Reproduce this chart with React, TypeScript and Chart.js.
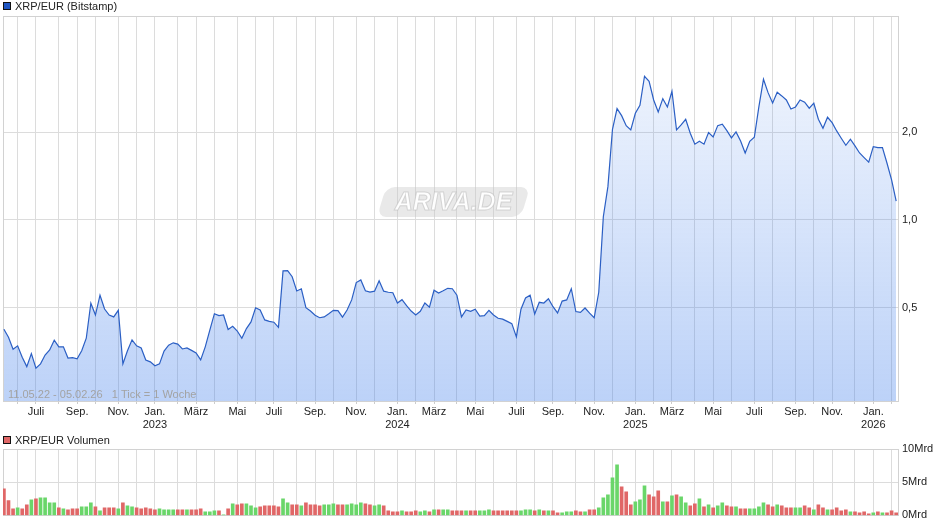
import React, { useEffect, useRef } from 'react';
import { Chart, registerables } from 'chart.js';

Chart.register(...registerables);

const START_DATE = Date.UTC(2022, 4, 11);
const END_MONTH = { y: 2026, m: 1 };
const FIRST_MONTH = { y: 2022, m: 5 };
const PRICE_TITLE = 'XRP/EUR (Bitstamp)';
const VOLUME_TITLE = 'XRP/EUR Volumen';
const RANGE_TEXT = '11.05.22 - 05.02.26   1 Tick = 1 Woche';
const WATERMARK = 'ARIVA.DE';
const MONTH_NAMES = ['Jan.', 'Feb.', 'März', 'Apr.', 'Mai', 'Juni', 'Juli', 'Aug.', 'Sep.', 'Okt.', 'Nov.', 'Dez.'];
const PRICE_TICKS = [0.5, 1, 2];
const PRICE_TICK_LABELS = ['0,5', '1,0', '2,0'];
const VOLUME_TICKS = [0, 5, 10];
const VOLUME_TICK_LABELS = ['0Mrd', '5Mrd', '10Mrd'];

// weekly closing price, EUR
const PRICE = [
  0.421, 0.395, 0.359, 0.369, 0.337, 0.313, 0.347, 0.309, 0.320, 0.343,
  0.357, 0.386, 0.366, 0.366, 0.335, 0.336, 0.333, 0.355, 0.392, 0.517,
  0.471, 0.551, 0.494, 0.471, 0.464, 0.489, 0.320, 0.355, 0.387, 0.369,
  0.363, 0.330, 0.325, 0.315, 0.320, 0.354, 0.371, 0.378, 0.374, 0.360,
  0.363, 0.356, 0.349, 0.330, 0.366, 0.418, 0.476, 0.469, 0.471, 0.420,
  0.431, 0.415, 0.392, 0.423, 0.446, 0.499, 0.490, 0.453, 0.448, 0.445,
  0.427, 0.668, 0.669, 0.638, 0.570, 0.580, 0.499, 0.486, 0.470, 0.461,
  0.464, 0.476, 0.489, 0.488, 0.463, 0.490, 0.531, 0.609, 0.622, 0.571,
  0.565, 0.569, 0.618, 0.569, 0.564, 0.562, 0.518, 0.532, 0.507, 0.486,
  0.471, 0.485, 0.518, 0.501, 0.573, 0.561, 0.571, 0.582, 0.580, 0.551,
  0.464, 0.490, 0.485, 0.493, 0.467, 0.469, 0.489, 0.471, 0.459, 0.456,
  0.448, 0.440, 0.396, 0.493, 0.539, 0.551, 0.475, 0.521, 0.518, 0.536,
  0.503, 0.479, 0.526, 0.531, 0.580, 0.484, 0.481, 0.498, 0.478, 0.461,
  0.564, 1.026, 1.302, 2.051, 2.415, 2.285, 2.111, 2.040, 2.329, 2.481,
  3.121, 3.000, 2.587, 2.352, 2.614, 2.448, 2.772, 2.040, 2.122, 2.220,
  1.987, 1.822, 1.865, 1.822, 1.997, 1.930, 2.111, 2.134, 2.029, 1.915,
  2.008, 1.870, 1.700, 1.865, 1.925, 2.453, 3.048, 2.741, 2.526, 2.750,
  2.671, 2.587, 2.409, 2.448, 2.587, 2.541, 2.423, 2.521, 2.220, 2.068,
  2.256, 2.161, 2.024, 1.910, 1.807, 1.895, 1.797, 1.700, 1.638, 1.580,
  1.787, 1.773, 1.773, 1.567, 1.373, 1.160,
];

// weekly volume, Mrd
const VOLUME = [
  4.0, 2.25, 1.0, 1.15, 1.0, 1.6, 2.35, 2.5, 2.65, 2.65,
  1.9, 1.9, 1.15, 1.0, 0.85, 1.0, 1.0, 1.3, 1.3, 1.9,
  1.3, 0.7, 1.15, 1.15, 1.15, 1.0, 1.9, 1.45, 1.3, 1.15,
  1.0, 1.15, 1.0, 0.85, 1.0, 0.85, 0.85, 0.85, 0.85, 0.85,
  0.85, 0.85, 0.85, 1.0, 0.55, 0.55, 0.7, 0.7, 0.1, 1.0,
  1.75, 1.6, 1.75, 1.75, 1.45, 1.15, 1.3, 1.45, 1.45, 1.45,
  1.3, 2.5, 1.9, 1.6, 1.6, 1.45, 1.9, 1.6, 1.6, 1.45,
  1.6, 1.6, 1.75, 1.6, 1.6, 1.6, 1.75, 1.6, 1.9, 1.75,
  1.6, 1.45, 1.6, 1.45, 0.7, 0.55, 0.55, 0.7, 0.55, 0.55,
  0.7, 0.55, 0.7, 0.55, 0.85, 0.85, 0.85, 0.85, 0.7, 0.7,
  0.7, 0.7, 0.7, 0.7, 0.7, 0.7, 0.85, 0.7, 0.7, 0.7,
  0.7, 0.7, 0.7, 0.7, 0.85, 0.85, 0.7, 0.85, 0.7, 0.7,
  0.7, 0.4, 0.4, 0.55, 0.55, 0.7, 0.55, 0.55, 0.85, 0.85,
  1.15, 2.65, 3.1, 5.65, 7.6, 4.3, 3.55, 1.6, 2.05, 2.35,
  4.45, 3.1, 2.8, 3.7, 2.05, 2.05, 2.95, 3.1, 2.8, 1.9,
  1.45, 1.75, 2.5, 1.3, 1.6, 1.15, 1.45, 1.9, 1.45, 1.3,
  1.3, 1.0, 1.0, 1.0, 1.0, 1.3, 1.9, 1.6, 1.3, 1.6,
  1.45, 1.15, 1.15, 1.15, 1.15, 1.45, 1.15, 0.85, 1.6, 1.15,
  0.85, 0.85, 1.15, 0.7, 0.85, 0.55, 0.55, 0.4, 0.55, 0.25,
  0.4, 0.55, 0.4, 0.4, 0.7, 0.4,
];

// 1 = green (up week), 0 = red (down week)
const VOLUME_UP = [
  0, 0, 0, 1, 0, 0, 1, 0, 1, 1,
  1, 1, 0, 1, 0, 0, 0, 1, 1, 1,
  0, 1, 0, 0, 0, 1, 0, 1, 1, 0,
  0, 0, 0, 0, 1, 1, 1, 1, 0, 0,
  1, 0, 0, 0, 1, 1, 1, 0, 1, 0,
  1, 0, 0, 1, 1, 1, 0, 0, 0, 0,
  0, 1, 1, 0, 0, 1, 0, 0, 0, 0,
  1, 1, 1, 0, 0, 1, 1, 1, 1, 0,
  0, 1, 1, 0, 0, 0, 0, 1, 0, 0,
  0, 1, 1, 0, 1, 0, 1, 1, 0, 0,
  0, 1, 0, 0, 1, 1, 1, 0, 0, 0,
  0, 0, 0, 1, 1, 1, 0, 1, 0, 1,
  0, 0, 1, 1, 1, 0, 0, 1, 0, 0,
  1, 1, 1, 1, 1, 0, 0, 0, 1, 1,
  1, 0, 0, 0, 1, 0, 1, 0, 1, 1,
  0, 0, 1, 0, 1, 0, 1, 1, 0, 0,
  1, 0, 0, 1, 1, 1, 1, 0, 0, 1,
  0, 0, 0, 1, 1, 0, 0, 1, 0, 0,
  1, 0, 0, 0, 0, 1, 0, 0, 0, 0,
  1, 0, 1, 0, 0, 0,
];

const FONT = '"Liberation Sans", Arial, Helvetica, sans-serif';
const GRID = '#dcdcdc';
const FRAME = '#d2d2d2';
const LINE = '#2b5fc4';
const UP = '#6ad66a';
const DOWN = '#e06767';

// month starts -> index of the week that contains them
function buildMonths() {
  const out: { idx: number; label: string | string[] }[] = [];
  let y = FIRST_MONTH.y;
  let m = FIRST_MONTH.m;
  while (y < END_MONTH.y || (y === END_MONTH.y && m <= END_MONTH.m)) {
    const d = (Date.UTC(y, m, 1) - START_DATE) / 86400000;
    const idx = Math.floor((d + 2) / 7);
    let label: string | string[] = '';
    if (m % 2 === 0) label = m === 0 ? [MONTH_NAMES[m], String(y)] : MONTH_NAMES[m];
    out.push({ idx, label });
    m++;
    if (m > 11) {
      m = 0;
      y++;
    }
  }
  return out;
}

const MONTHS = buildMonths();
const X_MIN = -0.2;
const X_MAX = PRICE.length - 0.6;

function xScale(showLabels: boolean, height: number) {
  return {
    type: 'linear',
    min: X_MIN,
    max: X_MAX,
    offset: false,
    afterBuildTicks: (s: any) => {
      s.ticks = MONTHS.map((t) => ({ value: t.idx }));
    },
    afterFit: (s: any) => {
      s.height = height;
    },
    ticks: {
      display: showLabels,
      autoSkip: false,
      maxRotation: 0,
      minRotation: 0,
      padding: 1,
      color: '#222',
      font: { family: FONT, size: 11 },
      callback: (_v: any, i: number) => MONTHS[i] ? MONTHS[i].label : '',
    },
    grid: {
      color: GRID,
      lineWidth: 1,
      offset: false,
      drawTicks: showLabels,
      tickLength: 3,
      tickColor: '#cccccc',
    },
    border: { display: false },
  };
}

function frame(chart: any) {
  const a = chart.chartArea;
  const ctx = chart.ctx;
  ctx.save();
  ctx.strokeStyle = FRAME;
  ctx.lineWidth = 1;
  ctx.strokeRect(Math.round(a.left) + 0.5, Math.round(a.top) + 0.5, Math.round(a.right - a.left), Math.round(a.bottom - a.top));
  ctx.restore();
}

function legend(ctx: CanvasRenderingContext2D, y: number, color: string, text: string) {
  ctx.save();
  ctx.fillStyle = color;
  ctx.fillRect(3.5, y - 3.5, 7, 7);
  ctx.strokeStyle = '#111';
  ctx.lineWidth = 1;
  ctx.strokeRect(3.5, y - 3.5, 7, 7);
  ctx.fillStyle = '#222';
  ctx.font = `11px ${FONT}`;
  ctx.textBaseline = 'middle';
  ctx.textAlign = 'left';
  ctx.fillText(text, 15, y + 0.5);
  ctx.restore();
}

const pricePlugin = {
  id: 'pricePlugin',
  beforeDatasetsDraw(chart: any) {
    frame(chart);
    const ctx = chart.ctx;
    const a = chart.chartArea;
    const cx = (a.left + a.right) / 2 + 3;
    const cy = 202;
    ctx.save();
    ctx.translate(cx, cy);
    ctx.transform(1, 0, -0.3, 1, 0, 0);
    ctx.beginPath();
    (ctx as any).roundRect(-72, -15, 144, 30, 9);
    ctx.fillStyle = 'rgba(200,200,200,0.4)';
    ctx.fill();
    ctx.restore();
    ctx.save();
    ctx.font = `italic bold 25px ${FONT}`;
    ctx.textAlign = 'center';
    ctx.textBaseline = 'middle';
    ctx.fillStyle = 'rgba(255,255,255,0.95)';
    ctx.strokeStyle = 'rgba(180,180,180,0.5)';
    ctx.lineWidth = 1;
    ctx.fillText(WATERMARK, cx, cy + 1);
    ctx.strokeText(WATERMARK, cx, cy + 1);
    ctx.restore();
  },
  afterDatasetsDraw(chart: any) {
    const ctx = chart.ctx;
    const a = chart.chartArea;
    ctx.save();
    ctx.fillStyle = '#a3a3a3';
    ctx.font = `11px ${FONT}`;
    ctx.textBaseline = 'middle';
    ctx.textAlign = 'left';
    ctx.fillText(RANGE_TEXT, a.left + 5, a.bottom - 6);
    ctx.restore();
  },
  afterDraw(chart: any) {
    legend(chart.ctx, 6, '#1f56c3', PRICE_TITLE);
  },
};

const volumePlugin = {
  id: 'volumePlugin',
  beforeDatasetsDraw(chart: any) {
    frame(chart);
  },
  afterDraw(chart: any) {
    legend(chart.ctx, 10, DOWN, VOLUME_TITLE);
  },
};

export default function App() {
  const priceRef = useRef<HTMLCanvasElement>(null);
  const volRef = useRef<HTMLCanvasElement>(null);

  useEffect(() => {
    Chart.defaults.font.family = FONT;
    Chart.defaults.font.size = 11;
    Chart.defaults.color = '#222';

    const priceChart = new Chart(priceRef.current as HTMLCanvasElement, {
      type: 'line',
      data: {
        datasets: [
          {
            data: PRICE.map((v, i) => ({ x: i, y: v })),
            borderColor: LINE,
            borderWidth: 1.2,
            pointRadius: 0,
            tension: 0,
            fill: 'start',
            backgroundColor: (c: any) => {
              const a = c.chart.chartArea;
              if (!a) return 'rgba(70,130,235,0.2)';
              const g = c.chart.ctx.createLinearGradient(0, a.top, 0, a.bottom);
              g.addColorStop(0, 'rgba(70,130,235,0.05)');
              g.addColorStop(1, 'rgba(70,130,235,0.36)');
              return g;
            },
          },
        ],
      },
      options: {
        animation: false,
        responsive: false,
        devicePixelRatio: 1,
        layout: { padding: { top: 16, left: 3, right: 0, bottom: 0 } },
        plugins: { legend: { display: false }, tooltip: { enabled: false } },
        scales: {
          x: xScale(true, 29) as any,
          y: {
            type: 'logarithmic',
            position: 'right',
            min: 0.2384,
            max: 5.03,
            afterBuildTicks: (s: any) => {
              s.ticks = PRICE_TICKS.map((v) => ({ value: v }));
            },
            afterFit: (s: any) => {
              s.width = 42;
            },
            ticks: {
              padding: 4,
              color: '#222',
              font: { family: FONT, size: 11 },
              callback: (_v: any, i: number) => PRICE_TICK_LABELS[i],
            },
            grid: { color: GRID, drawTicks: false },
            border: { display: false },
          } as any,
        },
      },
      plugins: [pricePlugin],
    });

    const volChart = new Chart(volRef.current as HTMLCanvasElement, {
      type: 'bar',
      data: {
        datasets: [
          {
            data: VOLUME.map((v, i) => ({ x: i, y: v })),
            backgroundColor: VOLUME_UP.map((u) => (u ? UP : DOWN)),
            barThickness: 3,
            borderWidth: 0,
          },
        ],
      },
      options: {
        animation: false,
        responsive: false,
        devicePixelRatio: 1,
        layout: { padding: { top: 19, left: 3, right: 0, bottom: 0 } },
        plugins: { legend: { display: false }, tooltip: { enabled: false } },
        scales: {
          x: xScale(false, 9) as any,
          y: {
            type: 'linear',
            position: 'right',
            min: 0,
            max: 10,
            afterBuildTicks: (s: any) => {
              s.ticks = VOLUME_TICKS.map((v) => ({ value: v }));
            },
            afterFit: (s: any) => {
              s.width = 42;
            },
            ticks: {
              padding: 4,
              color: '#222',
              font: { family: FONT, size: 11 },
              callback: (_v: any, i: number) => VOLUME_TICK_LABELS[i],
            },
            grid: { color: GRID, drawTicks: false },
            border: { display: false },
          } as any,
        },
      },
      plugins: [volumePlugin],
    });

    return () => {
      priceChart.destroy();
      volChart.destroy();
    };
  }, []);

  return (
    <div style={{ position: 'absolute', left: 0, top: 0, width: 940, height: 526, background: '#fff' }}>
      <canvas ref={priceRef} width={940} height={430} style={{ position: 'absolute', left: 0, top: 0, width: 940, height: 430 }} />
      <canvas ref={volRef} width={940} height={96} style={{ position: 'absolute', left: 0, top: 430, width: 940, height: 96 }} />
    </div>
  );
}
